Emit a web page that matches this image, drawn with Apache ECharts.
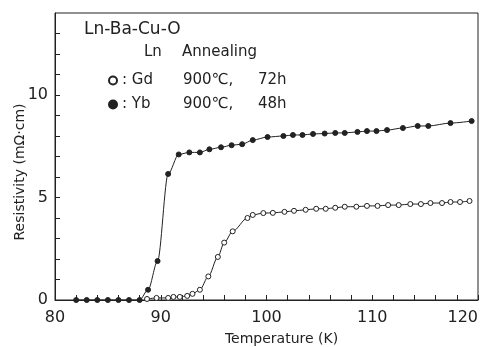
<!DOCTYPE html>
<html>
<head>
<meta charset="utf-8">
<script src="https://cdn.jsdelivr.net/npm/echarts@6/dist/echarts.min.js"></script>
<style>
  html, body { margin: 0; padding: 0; background: #fff; }
  #chart { width: 485px; height: 347px; }
</style>
</head>
<body>
<div id="chart"></div>
<script>
// Yb sample (filled markers), annealed 900C 48h
var ybTemp = [82, 83, 84, 85, 86, 87, 88, 88.8, 89.7, 90.7, 91.7, 92.7, 93.7, 94.6, 95.7, 96.7, 97.7, 98.7,
    100.1, 101.6, 102.5, 103.4, 104.4, 105.5, 106.5, 107.4, 108.6, 109.5, 110.4, 111.4, 112.9, 114.3, 115.3, 117.4, 119.4];
var ybRes = [0, 0, 0, 0, 0, 0, 0, 0.5, 1.9, 6.15, 7.1, 7.2, 7.2, 7.35, 7.45, 7.55, 7.6, 7.8,
    7.95, 8.0, 8.05, 8.05, 8.1, 8.12, 8.15, 8.15, 8.2, 8.24, 8.24, 8.29, 8.39, 8.49, 8.49, 8.63, 8.73];

// Gd sample (open markers), annealed 900C 72h
var gdTemp = [88.7, 89.6, 90.7, 91.2, 91.8, 92.5, 93.0, 93.7, 94.5, 95.4, 96.0, 96.8, 98.2, 98.7, 99.7, 100.6,
    101.7, 102.6, 103.7, 104.7, 105.6, 106.5, 107.4, 108.5, 109.5, 110.5, 111.5, 112.5, 113.6, 114.6, 115.5, 116.6, 117.4, 118.3, 119.2];
var gdRes = [0.05, 0.1, 0.1, 0.15, 0.15, 0.2, 0.3, 0.5, 1.15, 2.1, 2.8, 3.35, 4.0, 4.15, 4.24, 4.25,
    4.3, 4.35, 4.4, 4.45, 4.45, 4.5, 4.55, 4.55, 4.59, 4.59, 4.63, 4.63, 4.68, 4.68, 4.73, 4.73, 4.78, 4.78, 4.83];

var xTickLabels = ["80", "90", "100", "110", "120"];
var yTickLabels = ["0", "5", "10"];

// legend columns: Ln / Annealing temperature / time
var legendTemp = { Gd: "900℃,", Yb: "900℃," };
var legendTime = { Gd: "72h", Yb: "48h" };

function pairs(xs, ys) {
    return xs.map(function (x, i) { return [x, ys[i]]; });
}

var ink = "#222";
var font = "DejaVu Sans";

var myChart = echarts.init(document.getElementById("chart"));

var option = {
    animation: false,
    backgroundColor: "#fff",
    textStyle: { fontFamily: font, color: ink },
    grid: {
        left: 55, right: 7, top: 13, bottom: 47,
        outerBoundsMode: "none", containLabel: false,
        show: true, borderColor: ink, borderWidth: 1
    },
    xAxis: {
        type: "value", min: 80, max: 120, interval: 2,
        name: "Temperature (K)", nameLocation: "middle", nameGap: 32,
        nameTextStyle: { fontSize: 14, color: ink, padding: [0, 0, 0, 30] },
        axisLine: { lineStyle: { color: ink } },
        axisTick: { inside: true, length: 5, lineStyle: { color: ink } },
        axisLabel: {
            fontSize: 16, color: ink, margin: 10, alignMaxLabel: "right",
            formatter: function (v) {
                var s = String(v);
                return xTickLabels.indexOf(s) >= 0 ? s : "";
            }
        },
        splitLine: { show: false }
    },
    yAxis: {
        type: "value", min: 0, max: 14, interval: 1,
        axisLine: { lineStyle: { color: ink } },
        axisTick: { inside: true, length: 5, lineStyle: { color: ink } },
        axisLabel: {
            fontSize: 16, color: ink, margin: 7, showMaxLabel: false,
            formatter: function (v) {
                var s = String(v);
                return yTickLabels.indexOf(s) >= 0 ? s : "";
            }
        },
        splitLine: { show: false }
    },
    legend: {
        orient: "vertical", left: 103, top: 68, itemGap: 9,
        itemWidth: 8, itemHeight: 8, icon: "circle",
        data: ["Gd", "Yb"],
        formatter: function (name) {
            return "{a|: " + name + "}{b|" + legendTemp[name] + "}{c|" + legendTime[name] + "}";
        },
        textStyle: {
            fontSize: 15, color: ink,
            rich: {
                a: { width: 61, fontSize: 15, color: ink, fontFamily: font },
                b: { width: 75, fontSize: 15, color: ink, fontFamily: font },
                c: { fontSize: 15, color: ink, fontFamily: font }
            }
        }
    },
    graphic: [
        { type: "text", left: 84, top: 21, style: { text: "Ln-Ba-Cu-O", fontSize: 17, fill: ink, fontFamily: font } },
        { type: "text", left: 144, top: 45, style: { text: "Ln", fontSize: 15, fill: ink, fontFamily: font } },
        { type: "text", left: 182, top: 45, style: { text: "Annealing", fontSize: 15, fill: ink, fontFamily: font } },
        {
            type: "text", x: 20, y: 172, rotation: Math.PI / 2,
            style: {
                text: "Resistivity (mΩ·cm)", fontSize: 14, fill: ink, fontFamily: font,
                align: "center", verticalAlign: "middle"
            }
        }
    ],
    series: [
        {
            name: "Gd", type: "line", data: pairs(gdTemp, gdRes),
            smooth: 0.3, smoothMonotone: "x",
            symbol: "circle", symbolSize: 5,
            itemStyle: { color: "#fff", borderColor: ink, borderWidth: 1 },
            lineStyle: { color: ink, width: 1 }
        },
        {
            name: "Yb", type: "line", data: pairs(ybTemp, ybRes),
            smooth: 0.3, smoothMonotone: "x",
            symbol: "circle", symbolSize: 5,
            itemStyle: { color: ink, borderColor: ink, borderWidth: 1 },
            lineStyle: { color: ink, width: 1 }
        }
    ]
};

myChart.setOption(option);
</script>
</body>
</html>
